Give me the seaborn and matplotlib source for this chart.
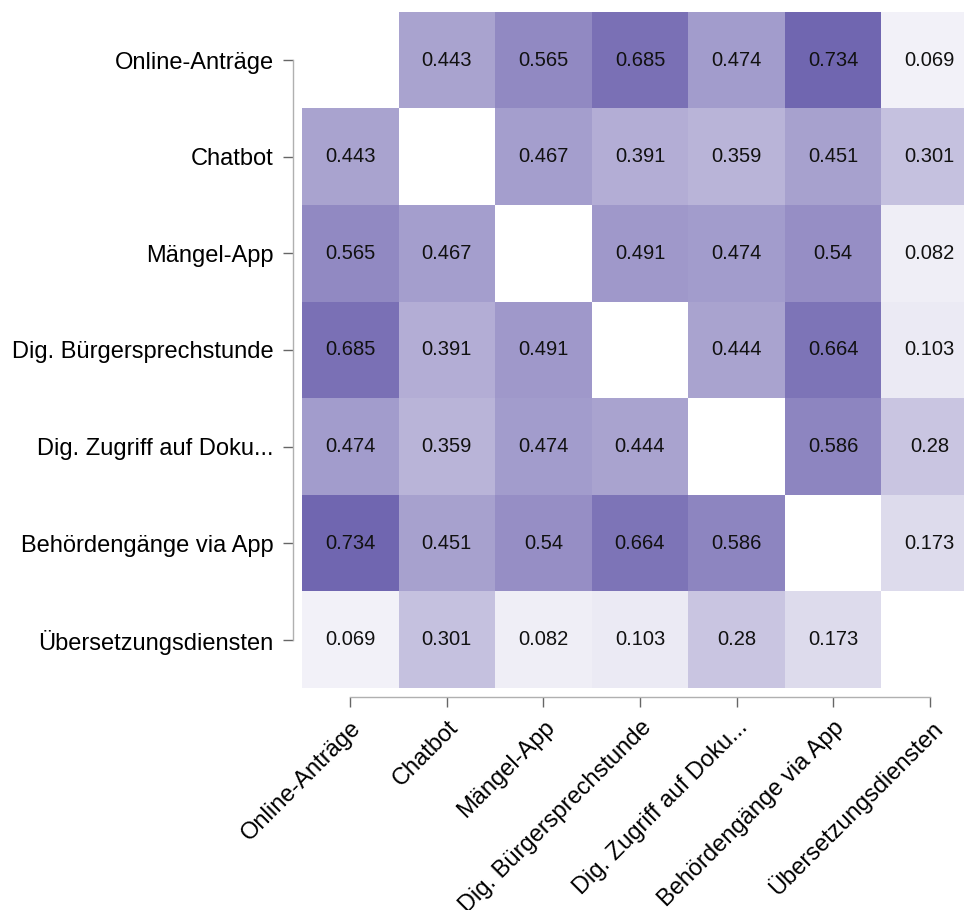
import numpy as np
import pandas as pd
import matplotlib.pyplot as plt
import seaborn as sns
from matplotlib.colors import LinearSegmentedColormap

# Kategorien und Korrelationswerte (obere Dreiecksmatrix, Zeile für Zeile)
labels = ["Online-Anträge", "Chatbot", "Mängel-App", "Dig. Bürgersprechstunde",
          "Dig. Zugriff auf Doku...", "Behördengänge via App", "Übersetzungsdiensten"]
row_online = [0.443, 0.565, 0.685, 0.474, 0.734, 0.069]
row_chatbot = [0.467, 0.391, 0.359, 0.451, 0.301]
row_maengel = [0.491, 0.474, 0.54, 0.082]
row_sprechstunde = [0.444, 0.664, 0.103]
row_doku = [0.586, 0.28]
row_behoerde = [0.173]

upper_rows = [row_online, row_chatbot, row_maengel, row_sprechstunde, row_doku, row_behoerde]

n = len(labels)
mat = np.full((n, n), np.nan)
for i, vals in enumerate(upper_rows):
    for k, v in enumerate(vals):
        j = i + 1 + k
        mat[i, j] = v
        mat[j, i] = v
corr = pd.DataFrame(mat, index=labels, columns=labels)

sns.set_style("white")
plt.rcParams["font.family"] = ["Liberation Sans", "DejaVu Sans"]
plt.rcParams["text.color"] = "black"

cmap = LinearSegmentedColormap.from_list("lila", ["#ffffff", "#7066b0"])

fig = plt.figure(figsize=(9.64, 9.10), dpi=100)
ax = fig.add_axes([0.3133, 0.2440, 0.7012, 0.7429])
sns.heatmap(corr, ax=ax, cmap=cmap, vmin=0, vmax=np.nanmax(mat), cbar=False,
            annot=True, fmt="g", annot_kws={"size": 14.5, "color": "#111111"})

for side in ["top", "right"]:
    ax.spines[side].set_visible(False)
for side in ["left", "bottom"]:
    ax.spines[side].set_visible(True)
    ax.spines[side].set_position(("outward", 6.5))
    ax.spines[side].set_color("#b0b0b0")
    ax.spines[side].set_linewidth(1.0)
ax.spines["left"].set_bounds(0.5, n - 0.5)
ax.spines["bottom"].set_bounds(0.5, n - 0.5)

ax.tick_params(axis="both", length=7, width=1.0, color="#666666", labelsize=17,
               labelcolor="black", left=True, bottom=True, pad=7)
ax.set_yticklabels(labels, rotation=0)
ax.set_xticklabels(labels, rotation=45, ha="right", rotation_mode="anchor")
ax.set_xlabel("")
ax.set_ylabel("")

plt.savefig("out.png", dpi=100)
